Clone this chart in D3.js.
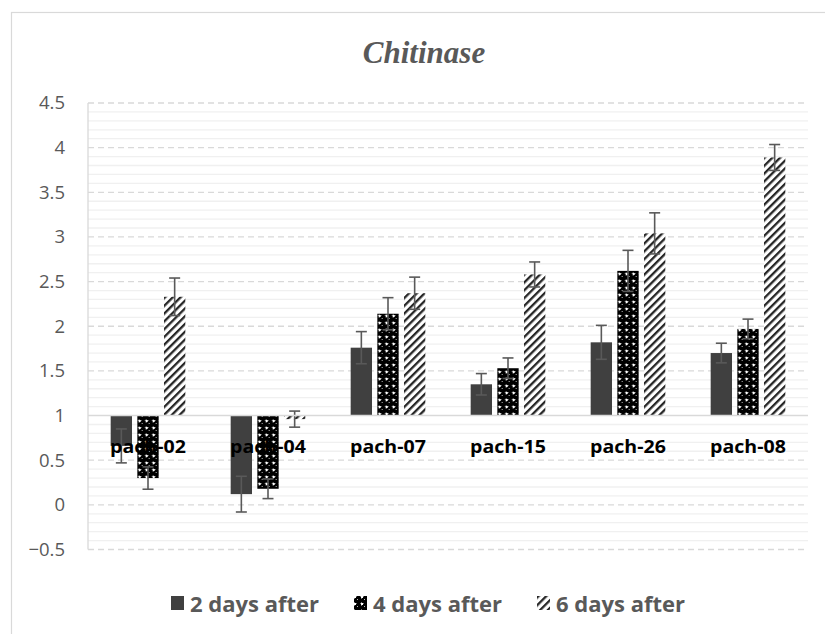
<!DOCTYPE html>
<html>
<head>
<meta charset="utf-8">
<script src="https://cdn.jsdelivr.net/npm/d3@7/dist/d3.min.js"></script>
<style>
  body { margin: 0; background: #fff; }
  svg { display: block; }
</style>
</head>
<body>
<div id="viz"></div>
<script>
// values
const categories = ["pach-02", "pach-04", "pach-07", "pach-15", "pach-26", "pach-08"];
const seriesNames = ["2 days after", "4 days after", "6 days after"];
const day2 = [0.66, 0.12, 1.76, 1.35, 1.82, 1.70];
const day4 = [0.30, 0.18, 2.14, 1.53, 2.62, 1.97];
const day6 = [2.33, 0.96, 2.37, 2.58, 3.04, 3.89];
const err2 = [0.19, 0.20, 0.18, 0.12, 0.19, 0.11];
const err4 = [0.125, 0.11, 0.18, 0.115, 0.23, 0.11];
const err6 = [0.21, 0.09, 0.18, 0.14, 0.23, 0.145];
const yTicks = [-0.5, 0, 0.5, 1, 1.5, 2, 2.5, 3, 3.5, 4, 4.5];
const baseValue = 1;

const W = 825, H = 634;
const margin = { top: 103, right: 17, bottom: 85, left: 88 };

let svg = d3.select("#viz").append("svg")
  .attr("width", W)
  .attr("height", H);

// fill patterns
let defs = svg.append("defs");

// black crosses with small white gaps
let check = defs.append("pattern")
  .attr("id", "pat-check")
  .attr("patternUnits", "userSpaceOnUse")
  .attr("width", 7).attr("height", 7);
check.append("rect").attr("width", 7).attr("height", 7).attr("fill", "#000");
check.append("rect").attr("x", 0).attr("y", 0).attr("width", 2).attr("height", 2).attr("fill", "#fff");
check.append("rect").attr("x", 3).attr("y", 3).attr("width", 1).attr("height", 1).attr("fill", "#bbb");
check.append("rect").attr("x", 2).attr("y", 0).attr("width", 1).attr("height", 1).attr("fill", "#777");
check.append("rect").attr("x", 0).attr("y", 2).attr("width", 1).attr("height", 1).attr("fill", "#777");
check.append("rect").attr("x", 6).attr("y", 0).attr("width", 1).attr("height", 1).attr("fill", "#777");
check.append("rect").attr("x", 0).attr("y", 6).attr("width", 1).attr("height", 1).attr("fill", "#777");

let hatch = defs.append("pattern")
  .attr("id", "pat-hatch")
  .attr("patternUnits", "userSpaceOnUse")
  .attr("width", 5.5).attr("height", 5.5)
  .attr("patternTransform", "rotate(45)");
hatch.append("rect").attr("width", 5.5).attr("height", 5.5).attr("fill", "#fff");
hatch.append("rect").attr("x", 0).attr("y", 0).attr("width", 2.3).attr("height", 5.5).attr("fill", "#262626");

const fills = ["#404040", "url(#pat-check)", "url(#pat-hatch)"];

// outer chart frame
svg.append("rect")
  .attr("x", 11.5).attr("y", 12.5)
  .attr("width", 900).attr("height", 900)
  .attr("fill", "none")
  .attr("stroke", "#d9d9d9")
  .attr("stroke-width", 1.2);

let x0 = d3.scaleBand()
  .domain(categories)
  .range([margin.left, W - margin.right])
  .paddingInner(0.378)
  .paddingOuter(0.189);

let x1 = d3.scaleBand()
  .domain(seriesNames)
  .range([0, x0.bandwidth()])
  .paddingInner(0.2);

let y = d3.scaleLinear()
  .domain([-0.5, 4.5])
  .range([H - margin.bottom + 0.5, margin.top]);

// minor gridlines every 0.1
let minor = d3.range(-5, 46).map(d => d / 10).filter(d => Math.round(d * 10) % 5 !== 0);
svg.append("g")
  .selectAll("line")
  .data(minor)
  .join("line")
  .attr("x1", margin.left).attr("x2", W - margin.right)
  .attr("y1", d => y(d)).attr("y2", d => y(d))
  .attr("stroke", "#f0f0f0")
  .attr("stroke-width", 1.3);

// major dashed gridlines
svg.append("g")
  .selectAll("line")
  .data(yTicks.filter(d => d !== baseValue))
  .join("line")
  .attr("x1", margin.left).attr("x2", W - margin.right)
  .attr("y1", d => y(d)).attr("y2", d => y(d))
  .attr("stroke", "#d9d9d9")
  .attr("stroke-width", 1.3)
  .attr("stroke-dasharray", "6,4");

// vertical axis line
svg.append("line")
  .attr("x1", margin.left).attr("x2", margin.left)
  .attr("y1", y(4.5)).attr("y2", y(-0.5))
  .attr("stroke", "#d9d9d9")
  .attr("stroke-width", 1.3);

// y tick labels
let yAxis = d3.axisLeft(y).tickValues(yTicks).tickSize(0).tickPadding(23).tickFormat(d3.format(""));
let ya = svg.append("g")
  .attr("transform", "translate(" + margin.left + ",0)")
  .call(yAxis);
ya.select(".domain").remove();
ya.selectAll("text")
  .attr("fill", "#595959")
  .style("font-family", "'Open Sans', sans-serif")
  .style("font-size", "18.5px");

// rows of data
let rows = categories.map((c, i) => ({
  cat: c,
  vals: [
    { s: seriesNames[0], v: day2[i], e: err2[i], k: 0 },
    { s: seriesNames[1], v: day4[i], e: err4[i], k: 1 },
    { s: seriesNames[2], v: day6[i], e: err6[i], k: 2 }
  ]
}));

let groups = svg.append("g")
  .selectAll("g")
  .data(rows)
  .join("g")
  .attr("transform", d => "translate(" + x0(d.cat) + ",0)");

groups.selectAll("rect")
  .data(d => d.vals)
  .join("rect")
  .attr("x", d => x1(d.s))
  .attr("width", x1.bandwidth())
  .attr("y", d => Math.min(y(d.v), y(baseValue)))
  .attr("height", d => Math.abs(y(d.v) - y(baseValue)))
  .attr("fill", d => fills[d.k]);

// horizontal axis line at 1
svg.append("line")
  .attr("x1", margin.left).attr("x2", W - margin.right)
  .attr("y1", y(baseValue)).attr("y2", y(baseValue))
  .attr("stroke", "#d9d9d9")
  .attr("stroke-width", 1.5);

// error bars
let eb = groups.selectAll("g.err")
  .data(d => d.vals)
  .join("g")
  .attr("class", "err")
  .attr("stroke", "#595959")
  .attr("stroke-width", 1.6);
eb.append("line")
  .attr("x1", d => x1(d.s) + x1.bandwidth() / 2)
  .attr("x2", d => x1(d.s) + x1.bandwidth() / 2)
  .attr("y1", d => y(d.v + d.e))
  .attr("y2", d => y(d.v - d.e));
eb.selectAll("line.cap")
  .data(d => [{ c: x1(d.s) + x1.bandwidth() / 2, yv: d.v + d.e }, { c: x1(d.s) + x1.bandwidth() / 2, yv: d.v - d.e }])
  .join("line")
  .attr("class", "cap")
  .attr("x1", d => d.c - 5.5)
  .attr("x2", d => d.c + 5.5)
  .attr("y1", d => y(d.yv))
  .attr("y2", d => y(d.yv));

// category labels sit just under the line at 1
svg.append("g")
  .selectAll("text")
  .data(categories)
  .join("text")
  .attr("transform", d => "translate(" + (x0(d) + x0.bandwidth() / 2) + "," + (y(baseValue) + 37) + ") scale(1.12,1)")
  .attr("text-anchor", "middle")
  .attr("fill", "#000")
  .style("font-family", "'Open Sans', sans-serif")
  .style("font-weight", "bold")
  .style("font-size", "17.5px")
  .text(d => d);

// title
svg.append("text")
  .attr("x", 424)
  .attr("y", 63)
  .attr("text-anchor", "middle")
  .attr("fill", "#595959")
  .style("font-family", "'Liberation Serif', 'Times New Roman', serif")
  .style("font-style", "italic")
  .style("font-weight", "bold")
  .style("font-size", "31px")
  .text("Chitinase");

// legend
const legendX = [171, 354, 537];
let leg = svg.append("g")
  .selectAll("g")
  .data(seriesNames)
  .join("g")
  .attr("transform", (d, i) => "translate(" + legendX[i] + ",596)");
leg.append("rect")
  .attr("width", 13).attr("height", 14)
  .attr("fill", (d, i) => fills[i]);
leg.append("text")
  .attr("x", 19)
  .attr("y", 15.5)
  .attr("fill", "#595959")
  .style("font-family", "'Open Sans', sans-serif")
  .style("font-weight", "bold")
  .style("font-size", "22px")
  .text(d => d);
</script>
</body>
</html>
